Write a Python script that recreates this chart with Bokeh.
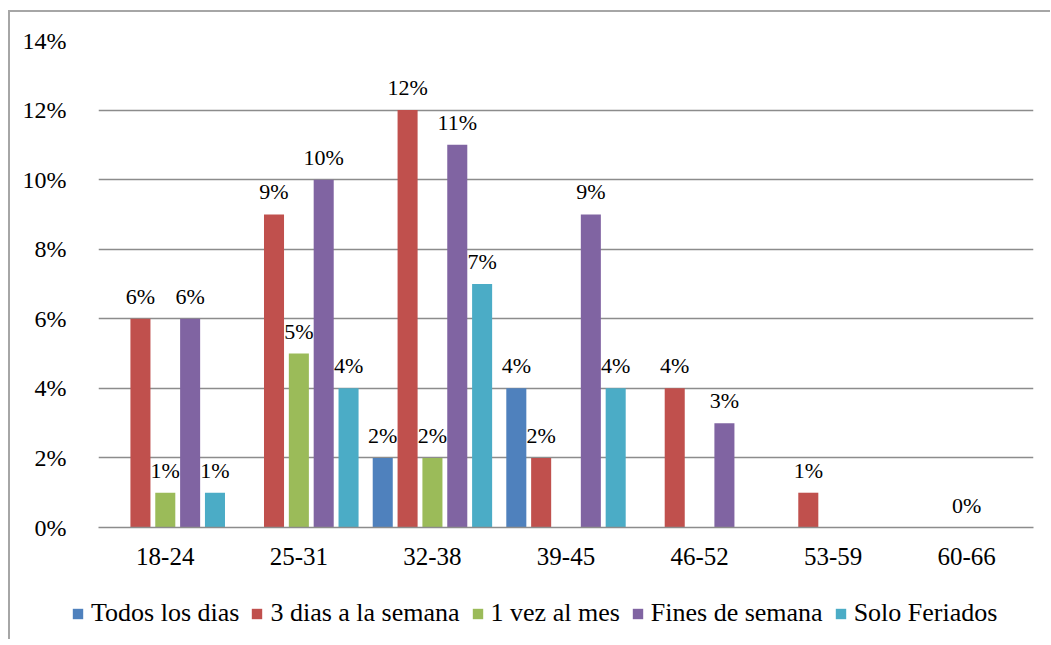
from bokeh.plotting import figure
from bokeh.layouts import column
from bokeh.models import ColumnDataSource, FactorRange, Range1d, FixedTicker, Legend, LegendItem
from bokeh.transform import dodge
from bokeh.core.properties import value
from bokeh.embed import file_html
from bokeh.resources import INLINE

# ---- data ----
categories = ["18-24", "25-31", "32-38", "39-45", "46-52", "53-59", "60-66"]
series_names = ["Todos los dias", "3 dias a la semana", "1 vez al mes", "Fines de semana", "Solo Feriados"]
todos_los_dias = [0, 0, 2, 4, 0, 0, 0]
tres_dias = [6, 9, 12, 2, 4, 1, 0]
una_vez_mes = [1, 5, 2, 0, 0, 0, 0]
fines_semana = [6, 10, 11, 9, 3, 0, 0]
solo_feriados = [1, 4, 7, 4, 0, 0, 0]
series_values = [todos_los_dias, tres_dias, una_vez_mes, fines_semana, solo_feriados]
colors = ["#4F81BD", "#C0504D", "#9BBB59", "#8064A2", "#4BACC6"]
y_ticks = [0, 2, 4, 6, 8, 10, 12, 14]
y_tick_labels = ["0%", "2%", "4%", "6%", "8%", "10%", "12%", "14%"]
zero_labels_shown = [("1 vez al mes", "60-66")]

FONT = "Liberation Serif"

p = figure(
    x_range=FactorRange(*categories, range_padding=0),
    y_range=Range1d(0, 14),
    frame_width=935, frame_height=487,
    min_border_left=88, min_border_right=17, min_border_top=28, min_border_bottom=60,
    output_backend="svg", toolbar_location=None,
    background_fill_color="white", border_fill_color="white",
)
p.outline_line_color = None
p.frame_align = False

step = 0.186
width = 0.15
for i, (name, vals, col) in enumerate(zip(series_names, series_values, colors)):
    off = (i - 2) * step
    labels = []
    for c, v in zip(categories, vals):
        if v > 0 or (name, c) in zero_labels_shown:
            labels.append(f"{v}%")
        else:
            labels.append("")
    src = ColumnDataSource(dict(cat=categories, val=vals, lbl=labels))
    p.vbar(x=dodge("cat", off, range=p.x_range), top="val", width=width, source=src,
           fill_color=col, line_color=None)
    p.text(x=dodge("cat", off, range=p.x_range), y="val", text="lbl", source=src,
           text_font=value(FONT), text_font_size="22px", text_color="black",
           text_align="center", text_baseline="bottom", y_offset=-10)

p.xgrid.grid_line_color = None
p.ygrid.grid_line_color = "#8c8c8c"
p.ygrid.grid_line_width = 1.5
p.ygrid.ticker = FixedTicker(ticks=y_ticks)

p.yaxis.ticker = FixedTicker(ticks=y_ticks)
p.yaxis.major_label_overrides = {t: l for t, l in zip(y_ticks, y_tick_labels)}
p.yaxis.axis_line_color = None
p.yaxis.major_tick_line_color = None
p.yaxis.minor_tick_line_color = None
p.yaxis.major_label_standoff = 26
p.yaxis.major_label_text_font = FONT
p.yaxis.major_label_text_font_size = "24px"
p.yaxis.major_label_text_color = "black"

p.xaxis.axis_line_color = "#8c8c8c"
p.xaxis.axis_line_width = 1.5
p.xaxis.major_tick_line_color = None
p.xaxis.minor_tick_line_color = None
p.xaxis.major_label_standoff = 14
p.xaxis.major_label_text_font = FONT
p.xaxis.major_label_text_font_size = "25px"
p.xaxis.major_label_text_color = "black"

# legend strip: zero-height swatch renderers only give the legend its colours
lf = figure(width=1040, height=52, x_range=Range1d(0, 1), y_range=Range1d(0, 1),
            x_axis_type=None, y_axis_type=None,
            min_border_left=0, min_border_right=0, min_border_top=0, min_border_bottom=0,
            output_backend="svg", toolbar_location=None,
            background_fill_color="white", border_fill_color="white")
lf.outline_line_color = None
lf.frame_align = False
items = []
for name, col in zip(series_names, colors):
    r = lf.vbar(x=[0.5], top=[0], bottom=[0], width=0.01, fill_color=col, line_color=None)
    items.append(LegendItem(label=name, renderers=[r]))
legend = Legend(items=items, orientation="horizontal", location="left",
                glyph_width=13, glyph_height=13, label_standoff=7, spacing=11,
                padding=0, margin=61, border_line_color=None, background_fill_alpha=0,
                label_text_font=FONT, label_text_font_size="26px", label_text_color="black")
lf.add_layout(legend, "center")

layout = column(p, lf, spacing=0)
layout.styles = {"border-left": "2px solid #a6a6a6", "border-top": "2px solid #a6a6a6",
                 "margin-top": "10px", "margin-left": "8px"}

open("out.html", "w").write(file_html(layout, INLINE))
